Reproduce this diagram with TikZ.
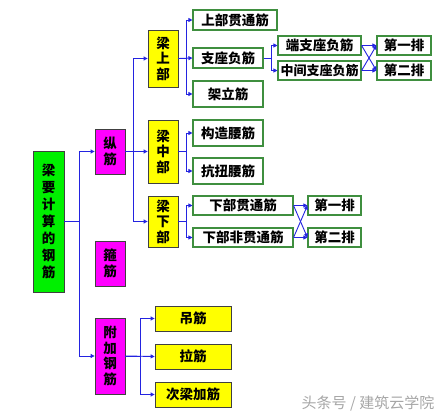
\documentclass[tikz,border=0pt]{standalone}
\usepackage{fontspec}
\setmainfont{Noto Sans CJK SC}
\usetikzlibrary{arrows.meta}
\definecolor{cGreen}{HTML}{00F000}
\definecolor{cYellow}{HTML}{FFFF00}
\definecolor{cMagenta}{HTML}{FF00FF}
\definecolor{cEdge}{HTML}{3F8F3F}
\definecolor{cLine}{HTML}{2323E0}

\begin{document}
\begin{tikzpicture}[
    x=1pt, y=-1pt,
    % --- Node styles ---
    box/.style={
        draw, inner sep=0pt, align=center, text=black,
        font=\fontsize{13.5}{15.5}\selectfont\bfseries
    },
    gb/.style={box, fill=cGreen, draw=black!75, line width=0.8pt,
        font=\fontsize{13.5}{17}\selectfont\bfseries},
    mb/.style={box, fill=cMagenta, draw=black!75, line width=0.8pt},
    yb/.style={box, fill=cYellow, draw=black!75, line width=0.8pt},
    wb/.style={box, fill=white, draw=cEdge, line width=1.1pt},
    % --- Arrow styles ---
    arr/.style={-{Triangle[length=4pt, width=4pt]}, line width=0.9pt, draw=cLine},
]
\useasboundingbox (0,0) rectangle (448,417);

% =============================================
% ROOT AND FIRST LEVEL
% =============================================

\node[gb, minimum width=31pt, minimum height=141pt] (root) at (48.5, 221.5) {梁\\要\\计\\算\\的\\钢\\筋};

\node[mb, minimum width=30pt, minimum height=45pt] (zj) at (110, 151.5) {纵\\筋};
\node[mb, minimum width=30pt, minimum height=45pt] (gj) at (110, 263.5) {箍\\筋};
\node[mb, minimum width=30pt, minimum height=76pt] (fj) at (110, 356) {附\\加\\钢\\筋};

% =============================================
% LONGITUDINAL BARS (纵筋)
% =============================================

\node[yb, minimum width=30pt, minimum height=57pt] (lsb) at (163, 58.5) {梁\\上\\部};
\node[yb, minimum width=30pt, minimum height=63pt] (lzb) at (163, 151.5) {梁\\中\\部};
\node[yb, minimum width=30pt, minimum height=51pt] (lxb) at (163, 221.5) {梁\\下\\部};

% Upper part
\node[wb, minimum width=84pt, minimum height=20pt] (sbgt) at (235, 20) {上部贯通筋};
\node[wb, minimum width=70pt, minimum height=20pt] (zzfj) at (228, 58) {支座负筋};
\node[wb, minimum width=70pt, minimum height=26pt] (jlj) at (228, 94) {架立筋};

% Support negative bars
\node[wb, minimum width=83pt, minimum height=19pt] (dzz) at (319.5, 45.5) {端支座负筋};
\node[wb, minimum width=83pt, minimum height=19pt, font=\fontsize{13}{15}\selectfont\bfseries] (zjz) at (319.5, 70.5) {中间支座负筋};
\node[wb, minimum width=54pt, minimum height=19pt] (p1a) at (404, 45.5) {第一排};
\node[wb, minimum width=54pt, minimum height=19pt] (p2a) at (404, 70.5) {第二排};

% Middle part
\node[wb, minimum width=70pt, minimum height=26pt] (gzyj) at (228, 133) {构造腰筋};
\node[wb, minimum width=70pt, minimum height=26pt] (knyj) at (228, 171) {抗扭腰筋};

% Lower part
\node[wb, minimum width=100pt, minimum height=19pt] (xbgt) at (243, 205.5) {下部贯通筋};
\node[wb, minimum width=100pt, minimum height=19pt] (xbfgt) at (243, 237.5) {下部非贯通筋};
\node[wb, minimum width=53pt, minimum height=19pt] (p1b) at (334.5, 205.5) {第一排};
\node[wb, minimum width=53pt, minimum height=19pt] (p2b) at (334.5, 237.5) {第二排};

% =============================================
% ADDITIONAL BARS (附加钢筋)
% =============================================

\node[yb, minimum width=76pt, minimum height=25pt] (dj) at (193, 318.5) {吊筋};
\node[yb, minimum width=76pt, minimum height=25pt] (lj) at (193, 356.5) {拉筋};
\node[yb, minimum width=76pt, minimum height=25pt] (cljj) at (193, 394.5) {次梁加筋};

% =============================================
% ARROWS
% =============================================

\draw[arr] (root.east) -- ++(15,0) |- (zj.west);
\draw[arr] (root.east) -- ++(15,0) |- (fj.west);

\draw[arr] (zj.east) -- ++(8,0) |- (lsb.west);
\draw[arr] (zj.east) -- (lzb.west);
\draw[arr] (zj.east) -- ++(8,0) |- (lxb.west);

\draw[arr] (lsb.east) -- ++(8,0) |- (sbgt.west);
\draw[arr] (lsb.east) -- (zzfj.west);
\draw[arr] (lsb.east) -- ++(8,0) |- (jlj.west);

\draw[arr] (zzfj.east) -- ++(8,0) |- (dzz.west);
\draw[arr] (zzfj.east) -- ++(8,0) |- (zjz.west);

% crossed links to the rows
\draw[arr] (dzz.east) -- (p1a.west);
\draw[arr] (dzz.east) -- (p2a.west);
\draw[arr] (zjz.east) -- (p1a.west);
\draw[arr] (zjz.east) -- (p2a.west);

\draw[arr] (lzb.east) -- ++(8,0) |- (gzyj.west);
\draw[arr] (lzb.east) -- ++(8,0) |- (knyj.west);

\draw[arr] (lxb.east) -- ++(8,0) |- (xbgt.west);
\draw[arr] (lxb.east) -- ++(8,0) |- (xbfgt.west);

\draw[arr] (xbgt.east) -- (p1b.west);
\draw[arr] (xbgt.east) -- (p2b.west);
\draw[arr] (xbfgt.east) -- (p1b.west);
\draw[arr] (xbfgt.east) -- (p2b.west);

\draw[arr] (fj.east) -- ++(15,0) |- (dj.west);
\draw[arr] (fj.east) -- (lj.west);
\draw[arr] (fj.east) -- ++(15,0) |- (cljj.west);

% Watermark
\node[font=\fontsize{15}{15}\selectfont, text=black!35] (wm) at (368, 403) {头条号 / 建筑云学院};

\end{tikzpicture}
\end{document}
